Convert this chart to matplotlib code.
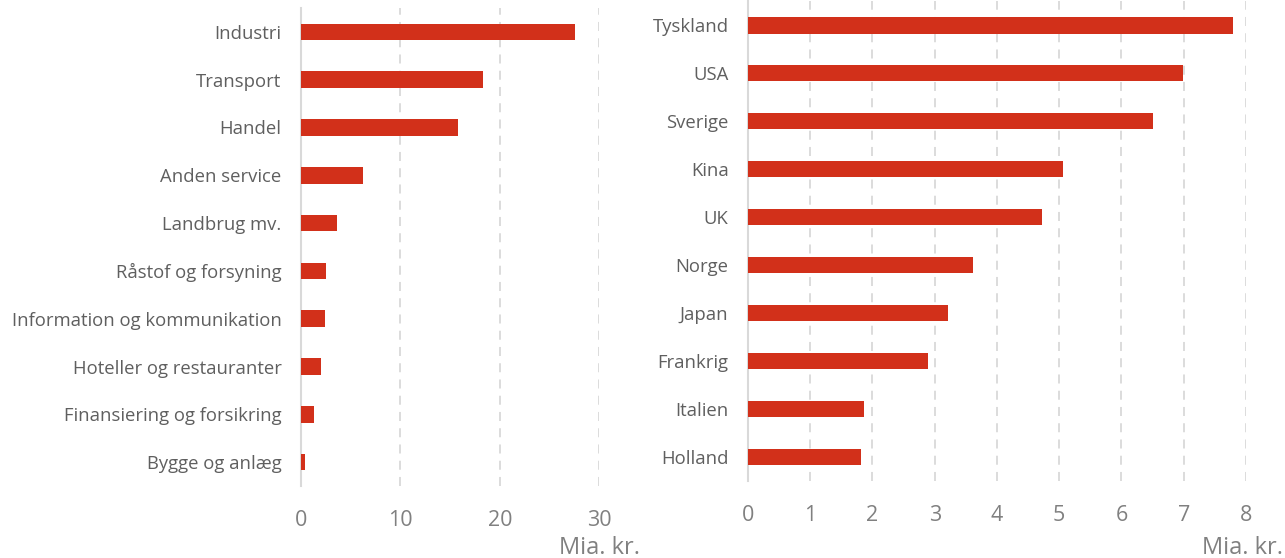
import matplotlib.pyplot as plt

plt.rcParams['font.family'] = ['Open Sans', 'DejaVu Sans']

# Venstre panel: brancher
brancher = ['Industri', 'Transport', 'Handel', 'Anden service', 'Landbrug mv.',
            'Råstof og forsyning', 'Information og kommunikation',
            'Hoteller og restauranter', 'Finansiering og forsikring', 'Bygge og anlæg']
brancher_val = [27.5, 18.25, 15.8, 6.2, 3.6, 2.5, 2.45, 2.0, 1.3, 0.45]
brancher_ticks = [0, 10, 20, 30]

# Højre panel: lande
lande = ['Tyskland', 'USA', 'Sverige', 'Kina', 'UK', 'Norge', 'Japan',
         'Frankrig', 'Italien', 'Holland']
lande_val = [7.8, 6.99, 6.5, 5.06, 4.72, 3.62, 3.22, 2.89, 1.87, 1.82]
lande_ticks = [0, 1, 2, 3, 4, 5, 6, 7, 8]

RED = '#D2301A'
GRID = '#D9D9D9'
TXT = '#5F5F5F'
TICK = '#808080'

fig = plt.figure(figsize=(12.85, 5.58), dpi=100)
ax1 = fig.add_axes([0.2342, 0.129, 0.2323, 0.8567])
ax2 = fig.add_axes([0.5821, 0.138, 0.3875, 0.860])


def panel(ax, labels, vals, ticks):
    y = list(range(len(labels)))
    ax.barh(y, vals, height=0.35, color=RED, zorder=3)
    ax.set_ylim(len(labels) - 0.5, -0.5)
    ax.set_xlim(ticks[0], ticks[-1])
    ax.set_yticks(y)
    ax.set_yticklabels(labels, fontsize=13.3, color=TXT)
    ax.set_xticks(ticks)
    ax.set_xticklabels([str(t) for t in ticks], fontsize=15.5, color=TICK)
    ax.tick_params(axis='both', length=0)
    ax.tick_params(axis='x', pad=17)
    ax.tick_params(axis='y', pad=14)
    ax.xaxis.grid(True, color=GRID, linestyle=(0, (5, 4)), linewidth=1.3, zorder=0)
    for s in ['top', 'right', 'bottom']:
        ax.spines[s].set_visible(False)
    ax.spines['left'].set_color(GRID)
    ax.spines['left'].set_linewidth(1.5)


panel(ax1, brancher, brancher_val, brancher_ticks)
panel(ax2, lande, lande_val, lande_ticks)

fig.text(640 / 1285, 1 - 548 / 558, 'Mia. kr.', ha='right', va='center',
         fontsize=17, color=TICK)
fig.text(1283 / 1285, 1 - 548 / 558, 'Mia. kr.', ha='right', va='center',
         fontsize=17, color=TICK)

fig.savefig('out.png', dpi=100)
